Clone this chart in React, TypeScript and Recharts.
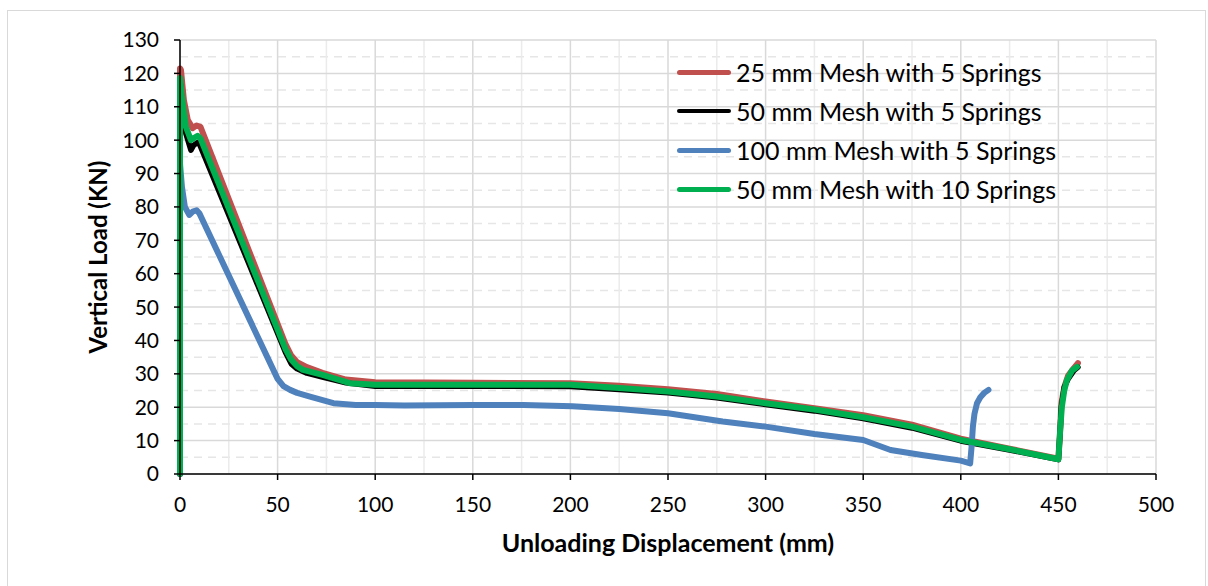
import { LineChart, Line, XAxis, YAxis, CartesianGrid, Legend, Label } from 'recharts'

// axis ticks / grid positions
const dispTicks = [0, 50, 100, 150, 200, 250, 300, 350, 400, 450, 500]
const dispMinor = [25, 75, 125, 175, 225, 275, 325, 375, 425, 475]
const loadTicks = [0, 10, 20, 30, 40, 50, 60, 70, 80, 90, 100, 110, 120, 130]
const loadMinor = [5, 15, 25, 35, 45, 55, 65, 75, 85, 95, 105, 115, 125]

// 25 mm mesh, 5 springs
const mesh25Disp = [0, 0, 0.5, 2, 4, 6.5, 8.5, 10.5, 54, 57, 60, 65, 73, 85, 100, 150, 200, 225, 250, 275, 300, 325, 350, 375, 400, 425, 450, 451, 451.5, 453, 455, 458, 460]
const mesh25Load = [0, 121.5, 121, 112, 106, 103.6, 104.4, 104, 39, 35.5, 33.5, 32, 30.3, 28.3, 27.5, 27.3, 27.2, 26.4, 25.4, 24, 21.7, 19.7, 17.6, 14.8, 10.6, 7.6, 4.6, 14, 21, 26, 29.5, 31.8, 33.2]

// 50 mm mesh, 5 springs
const mesh50Disp = [0, 0, 1, 3, 5.6, 7, 9, 10, 54, 57, 60, 65, 73, 85, 100, 150, 200, 225, 250, 275, 300, 325, 350, 375, 400, 425, 450, 451, 451.5, 453, 455, 458, 460]
const mesh50Load = [0, 118, 112, 102, 97, 98.5, 99.3, 98.8, 36.5, 33, 31.5, 30.2, 29, 27.3, 26.3, 26.3, 26.2, 25.3, 24.3, 22.8, 20.8, 18.9, 16.6, 13.8, 9.9, 7.2, 4.3, 14, 20, 26, 28.5, 31, 32]

// 100 mm mesh, 5 springs
const mesh100Disp = [0, 0, 1, 2.5, 4.8, 6.5, 8.5, 10, 50, 53, 56.4, 60, 66.6, 78.6, 90, 100, 115, 150, 176, 201, 225, 250, 278, 300, 325, 350, 364, 380, 400, 404.8, 405.5, 406.2, 407, 408.3, 410, 412, 414.2]
const mesh100Load = [0, 93, 86, 80, 77.6, 78.6, 79, 78, 28.5, 26.3, 25.2, 24.3, 23.2, 21.2, 20.7, 20.7, 20.5, 20.7, 20.7, 20.3, 19.5, 18.2, 15.7, 14.2, 12, 10.2, 7.2, 5.7, 4, 3.2, 8, 14.2, 18, 21.2, 23, 24.3, 25.2]

// 50 mm mesh, 10 springs
const mesh50s10Disp = [0, 0, 1, 3, 5.6, 7.5, 9, 10.5, 54, 57, 60, 63, 73, 87, 100, 150, 200, 227, 250, 275, 300, 325, 350, 375, 400, 425, 450, 451, 451.8, 453, 454.4, 457, 459.5]
const mesh50s10Load = [0, 118.6, 113, 104, 100, 100.8, 101.3, 100.5, 37.5, 34.2, 32.3, 31.2, 29.7, 27.2, 26.7, 26.7, 26.7, 25.7, 24.7, 23.2, 21.2, 19.3, 17, 14.2, 10.2, 7.4, 4.4, 14, 20.2, 25, 28.2, 31, 32.1]

const toPoints = (xs: number[], ys: number[]) => xs.map((x, i) => ({ x, y: ys[i] }))

const series = [
  { name: '25 mm Mesh with 5 Springs', color: '#C0504D', width: 6, data: toPoints(mesh25Disp, mesh25Load) },
  { name: '50 mm Mesh with 5 Springs', color: '#000000', width: 5.5, data: toPoints(mesh50Disp, mesh50Load) },
  { name: '100 mm Mesh with 5 Springs', color: '#4F81BD', width: 6, data: toPoints(mesh100Disp, mesh100Load) },
  { name: '50 mm Mesh with 10 Springs', color: '#00B050', width: 6, data: toPoints(mesh50s10Disp, mesh50s10Load) },
]

// legend drawn in series order (recharts would sort it by name)
function LegendBox() {
  return (
    <div style={{ fontSize: 25, color: '#000', lineHeight: 1 }}>
      {series.map((s) => (
        <div key={s.name} style={{ display: 'flex', alignItems: 'center', height: 39 }}>
          <span
            style={{
              display: 'inline-block',
              width: 54,
              height: s.color === '#000000' ? 4 : 5,
              background: s.color,
              borderRadius: 3,
              marginRight: 5,
            }}
          />
          <span style={{ whiteSpace: 'nowrap' }}>{s.name}</span>
        </div>
      ))}
    </div>
  )
}

export default function App() {
  return (
    <div
      style={{
        position: 'absolute',
        left: 7,
        top: 10,
        width: 1199,
        height: 580,
        boxSizing: 'border-box',
        border: '1px solid #d9d9d9',
        background: '#fff',
        fontFamily: 'Lato, sans-serif',
      }}
    >
      <LineChart width={1197} height={578} margin={{ top: 29, right: 49, bottom: 30, left: 82 }}>
        <CartesianGrid vertical={false} horizontalValues={loadMinor} stroke="#e6e6e6" strokeWidth={1.5} strokeDasharray="8 6" />
        <CartesianGrid horizontal={false} verticalValues={dispMinor} stroke="#ebebeb" strokeWidth={1.5} />
        <CartesianGrid horizontalValues={loadTicks} verticalValues={dispTicks} stroke="#d9d9d9" strokeWidth={1.5} />
        <XAxis
          type="number"
          dataKey="x"
          domain={[0, 500]}
          ticks={dispTicks}
          height={85}
          allowDuplicatedCategory={false}
          tick={{ fontSize: 21, fill: '#000' }}
          tickSize={6}
          tickMargin={17}
          axisLine={{ stroke: '#000', strokeWidth: 1.5 }}
          tickLine={{ stroke: '#000', strokeWidth: 1.5 }}
        >
          <Label
            content={(props: any) => {
              const vb = props.viewBox || { x: 172, y: 463, width: 976, height: 85 }
              return (
                <text
                  x={vb.x + vb.width / 2}
                  y={vb.y + 78}
                  textAnchor="middle"
                  fontSize={25}
                  fontWeight="bold"
                  fill="#000"
                >
                  Unloading Displacement (mm)
                </text>
              )
            }}
          />
        </XAxis>
        <YAxis
          type="number"
          dataKey="y"
          domain={[0, 130]}
          ticks={loadTicks}
          width={90}
          tick={{ fontSize: 21, fill: '#000' }}
          tickSize={6}
          tickMargin={15}
          axisLine={{ stroke: '#000', strokeWidth: 1.5 }}
          tickLine={{ stroke: '#000', strokeWidth: 1.5 }}
        >
          <Label
            content={(props: any) => {
              const vb = props.viewBox || { x: 82, y: 29, width: 90, height: 434 }
              const x = vb.x + 17
              const y = vb.y + vb.height / 2
              return (
                <text
                  x={x}
                  y={y}
                  transform={`rotate(-90 ${x} ${y})`}
                  textAnchor="middle"
                  fontSize={24}
                  fontWeight="bold"
                  fill="#000"
                >
                  Vertical Load (KN)
                </text>
              )
            }}
          />
        </YAxis>
        <Legend
          layout="vertical"
          align="center"
          verticalAlign="middle"
          wrapperStyle={{ left: 669, top: 41.5, width: 'auto' }}
          content={<LegendBox />}
        />
        {series.map((s) => (
          <Line
            key={s.name}
            name={s.name}
            data={s.data}
            dataKey="y"
            type="linear"
            stroke={s.color}
            strokeWidth={s.width}
            strokeLinejoin="round"
            strokeLinecap="round"
            dot={false}
            activeDot={false}
            isAnimationActive={false}
          />
        ))}
      </LineChart>
    </div>
  )
}
